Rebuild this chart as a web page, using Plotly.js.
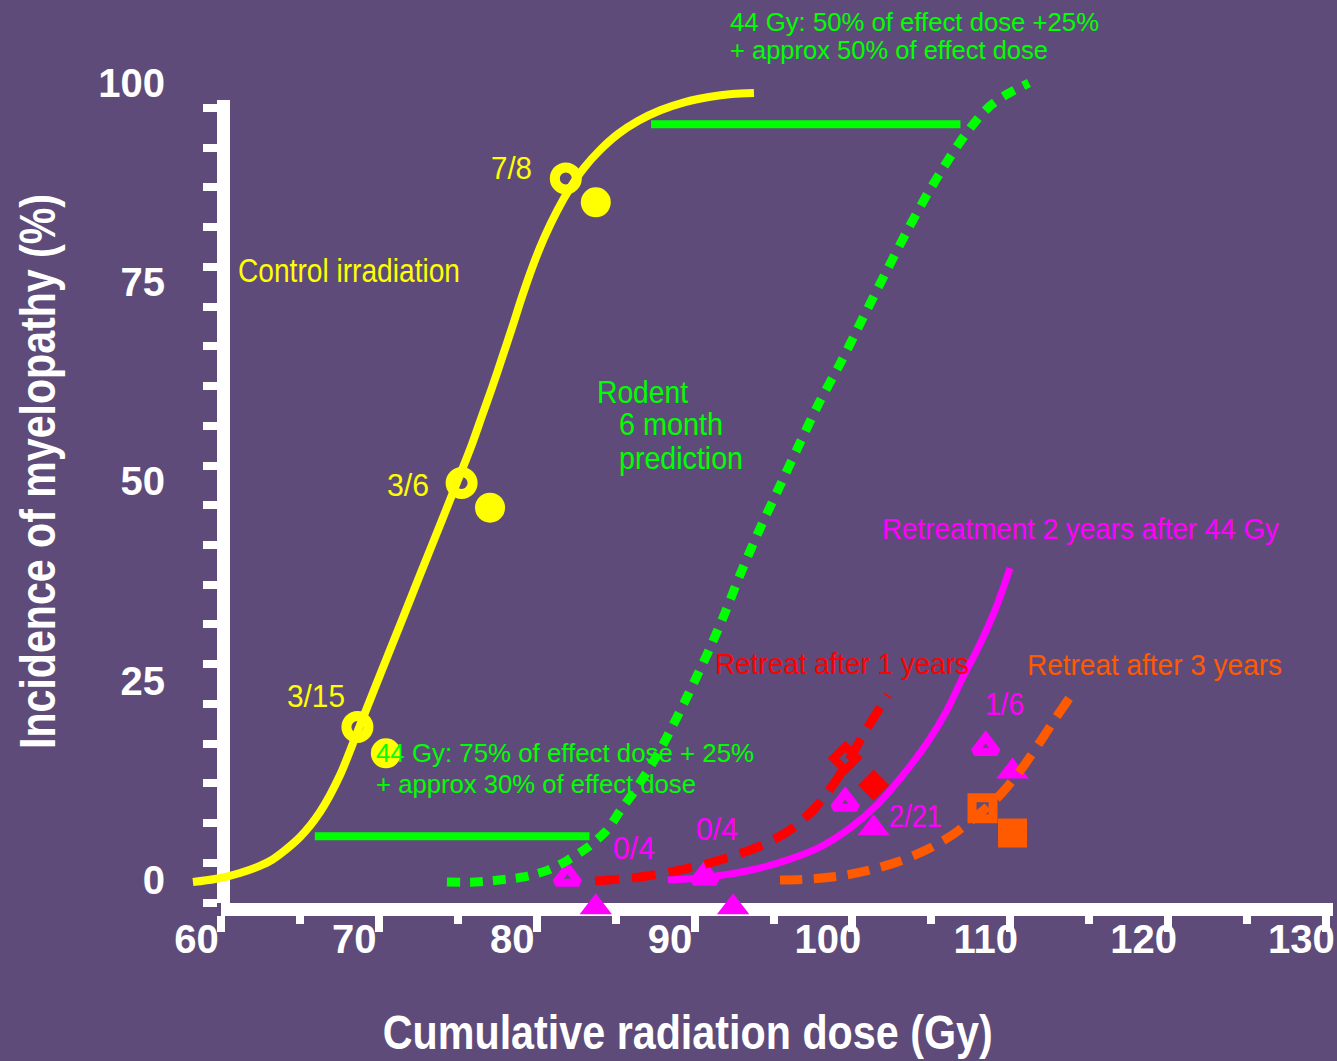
<!DOCTYPE html>
<html>
<head>
<meta charset="utf-8">
<script src="https://cdn.plot.ly/plotly-3.0.1.min.js"></script>
<style>
html,body{margin:0;padding:0;background:#5e4b7a;}
#chart{width:1337px;height:1061px;}
</style>
</head>
<body>
<div id="chart"></div>
<script>
// ---- Tick labels ----
const xTickVals = [60, 70, 80, 90, 100, 110, 120, 130];
const yTickVals = [0, 25, 50, 75, 100];

// ---- Curves (dose Gy, incidence %) ----
const controlCurveX = [59.78,61.18,62.76,64.66,66.56,67.83,69.10,70.17,71.63,72.90,74.16,75.56,76.19,76.82,77.46,78.09,78.72,79.36,79.99,80.62,81.26,82.02,82.84,83.67,84.55,85.57,86.71,87.97,89.43,90.95,92.47,93.93,95.32];
const controlCurveY = [-0.25,0.13,0.88,2.38,5.39,8.53,13.17,18.44,25.71,31.98,38.25,45.15,48.29,51.42,54.68,58.20,61.71,65.47,69.23,73.12,76.76,80.52,83.91,86.79,89.30,91.56,93.57,95.20,96.57,97.58,98.21,98.58,98.71];

const rodentCurveX = [75.87,77.71,79.17,80.69,82.27,83.54,84.81,86.01,86.83,87.66,88.54,89.37,90.13,90.89,91.65,92.53,93.48,94.43,95.57,96.84,98.11,99.44,100.83,102.22,103.62,104.95,106.34,107.42,108.37,109.32,110.27,111.22,112.74];
const rodentCurveY = [-0.25,-0.25,0.0,0.38,1.25,2.51,4.14,6.27,8.65,10.91,13.55,16.31,19.19,22.20,25.34,29.10,33.49,38.25,43.52,48.92,54.31,59.83,64.97,70.49,76.01,81.15,86.17,89.68,92.56,95.07,97.08,98.41,99.97];

const retreat1X = [85.25,88.10,90.63,93.17,95.70,97.60,99.18,100.45,101.40,102.54,103.81];
const retreat1Y = [-0.13,0.38,1.25,2.51,4.26,6.27,9.03,12.29,15.30,19.19,23.20];

const retreat2X = [89.87,91.90,93.80,95.70,97.60,99.50,101.40,103.11,104.76,106.28,107.55,108.56,109.45,110.59,111.54];
const retreat2Y = [0.0,0.25,0.75,1.51,2.63,4.14,6.52,9.41,13.17,17.18,21.32,25.46,28.85,33.86,39.13];

const retreat3X = [96.97,98.87,100.77,102.67,104.57,106.47,108.05,109.64,110.90,112.17,113.44,114.39,115.34];
const retreat3Y = [0.0,0.13,0.50,1.25,2.38,4.01,5.89,8.40,10.66,13.67,17.31,20.19,22.95];

// ---- 5% / 95% reference lines ----
const lowLineX = [67.5, 84.9];
const lowLineY = [5.5, 5.5];
const highLineX = [88.8, 108.4];
const highLineY = [94.8, 94.8];

// ---- Observed points ----
const controlOpenX = [70.2, 76.8, 83.4];
const controlOpenY = [19.2, 49.8, 88.0];
const controlFilledX = [72.0, 78.6, 85.3];
const controlFilledY = [15.9, 46.7, 85.0];

const retreat2OpenX = [83.5, 92.2, 101.1, 110.0];
const retreat2OpenY = [0.3, 0.4, 9.7, 16.7];
const retreat2FilledX = [85.3, 94.0, 102.9, 111.7];
const retreat2FilledY = [-3.4, -3.4, 6.5, 13.6];

const retreat1OpenX = [101.1];
const retreat1OpenY = [15.3];
const retreat1FilledX = [102.9];
const retreat1FilledY = [11.9];

const retreat3OpenX = [109.8];
const retreat3OpenY = [9.0];
const retreat3FilledX = [111.7];
const retreat3FilledY = [5.9];

// ---- Text labels ----
const labelTexts = ["44 Gy: 50% of effect dose +25%", "+ approx 50% of effect dose", "Control irradiation", "Rodent", "6 month", "prediction", "Retreatment 2 years after 44 Gy", "Retreat after 1 years", "Retreat after 3 years", "44 Gy: 75% of effect dose + 25%", "+ approx 30% of effect dose", "7/8", "3/6", "3/15", "0/4", "0/4", "2/21", "1/6"];
const labelX = [93.67, 93.67, 62.51, 85.25, 86.64, 86.64, 103.30, 92.72, 112.49, 71.25, 71.25, 78.53, 71.95, 65.61, 86.26, 91.52, 103.75, 109.83];
const labelY = [107.6, 104.1, 76.4, 61.2, 57.2, 52.9, 44.0, 27.2, 27.0, 15.9, 12.0, 89.2, 49.5, 23.0, 4.0, 6.3, 8.0, 22.0];

const xTitle = 'Cumulative radiation dose (Gy)';
const yTitle = 'Incidence of myelopathy (%)';

const PURPLE = '#5e4b7a';
const YELLOW = '#ffff00';
const GREEN = '#00ff00';
const RED = '#ff0000';
const MAGENTA = '#ff00ff';
const ORANGE = '#ff5a00';
const labelColors = [GREEN, GREEN, YELLOW, GREEN, GREEN, GREEN, MAGENTA, RED, ORANGE, GREEN, GREEN, YELLOW, YELLOW, YELLOW, MAGENTA, MAGENTA, MAGENTA, MAGENTA];
const labelSizes = [26, 26, 33, 32, 32, 32, 29, 30, 30, 26, 26, 31, 31, 31, 31, 31, 31, 31];
const labelWidths = [369, 318, 222, 91, 104, 124, 397, 254, 255, 378, 320, 41, 42, 58, 42, 42, 53, 39];

const FONT = 'Liberation Sans, Arial, sans-serif';

function markers(x, y, symbol, color, size, lw) {
  return {type: 'scatter', mode: 'markers', x: x, y: y, xaxis: 'x2', yaxis: 'y2', cliponaxis: false,
    hoverinfo: 'skip', showlegend: false,
    marker: {symbol: symbol, color: color, size: size, line: {color: color, width: lw}}};
}
function curve(x, y, color, width, dash) {
  return {type: 'scatter', mode: 'lines', x: x, y: y, xaxis: 'x2', yaxis: 'y2', cliponaxis: false,
    hoverinfo: 'skip', showlegend: false,
    line: {color: color, width: width, dash: dash, shape: 'spline', smoothing: 0.8}};
}

const traces = [
  // empty trace so the axis-frame subplot is built
  {type: 'scatter', mode: 'markers', x: [], y: [], xaxis: 'x', yaxis: 'y', showlegend: false, hoverinfo: 'skip'},
  markers(controlFilledX, controlFilledY, 'circle', YELLOW, 30, 0),
  markers(controlOpenX, controlOpenY, 'circle-open', YELLOW, 22, 10),
  markers(retreat2FilledX, retreat2FilledY, 'triangle-up', MAGENTA, 28, 0),
  markers(retreat2OpenX, retreat2OpenY, 'triangle-up-open', MAGENTA, 20, 8),
  markers(retreat1FilledX, retreat1FilledY, 'diamond', RED, 24, 0),
  markers(retreat1OpenX, retreat1OpenY, 'diamond-open', RED, 18, 8),
  markers(retreat3FilledX, retreat3FilledY, 'square', ORANGE, 29, 0),
  markers(retreat3OpenX, retreat3OpenY, 'square-open', ORANGE, 21, 9),
  curve(controlCurveX, controlCurveY, YELLOW, 8, 'solid'),
  curve(rodentCurveX, rodentCurveY, GREEN, 9, '13px,10px'),
  curve(lowLineX, lowLineY, GREEN, 8, 'solid'),
  curve(highLineX, highLineY, GREEN, 8, 'solid'),
  curve(retreat1X, retreat1Y, RED, 9, '24px,13px'),
  curve(retreat2X, retreat2Y, MAGENTA, 7, 'solid'),
  curve(retreat3X, retreat3Y, ORANGE, 9, '22px,12px')
];

const annotations = labelTexts.map((t, i) => ({
  text: t, x: labelX[i], y: labelY[i], xref: 'x2', yref: 'y2',
  xanchor: 'left', yanchor: 'middle', align: 'left', showarrow: false,
  font: {family: FONT, size: labelSizes[i], color: labelColors[i]}
}));
// axis titles
annotations.push({text: xTitle, xref: 'paper', yref: 'paper', x: 0.4444, y: -0.1251,
  xanchor: 'center', yanchor: 'middle', align: 'center', showarrow: false, borderpad: 0,
  font: {family: FONT, size: 48, color: 'white', weight: 'bold'}});
annotations.push({text: yTitle, xref: 'paper', yref: 'paper', x: -0.1154, y: 0.4874, textangle: -90,
  xanchor: 'center', yanchor: 'middle', align: 'center', showarrow: false,
  font: {family: FONT, size: 50, color: 'white', weight: 'bold'}});
const annWidths = labelWidths.concat([610, 555]);

const layout = {
  width: 1337, height: 1061,
  paper_bgcolor: PURPLE, plot_bgcolor: 'rgba(0,0,0,0)',
  margin: {l: 172, r: 4, t: 3, b: 143, pad: 0, autoexpand: false},
  showlegend: false,
  font: {family: FONT, color: 'white'},
  // axis frame (white lines + ticks)
  xaxis: {domain: [0.04194, 1], range: [59.98, 130.44], anchor: 'y', showline: true, linecolor: 'white', linewidth: 13,
    ticks: 'outside', tickcolor: 'white', tickwidth: 8, ticklen: 16, tick0: 60, dtick: 10,
    showticklabels: false, showgrid: false, zeroline: false,
    minor: {ticks: 'outside', tickcolor: 'white', tickwidth: 8, ticklen: 8, tick0: 60, dtick: 5, showgrid: false}},
  yaxis: {domain: [0.01639, 0.894], range: [-0.05, 101.0], anchor: 'free', position: 0.0435, showline: true, linecolor: 'white', linewidth: 13,
    ticks: 'outside', tickcolor: 'white', tickwidth: 8, ticklen: 14, tick0: 0, dtick: 5,
    showticklabels: false, showgrid: false, zeroline: false},
  // data axes (tick labels)
  xaxis2: {domain: [0, 1], range: [58.454, 132], anchor: 'y2', showline: false, ticks: '', showgrid: false, zeroline: false,
    tickmode: 'array', tickvals: xTickVals, ticktext: xTickVals.map(String), ticklabelstandoff: -6,
    tickfont: {family: FONT, size: 40, color: 'white', weight: 'bold'}},
  yaxis2: {domain: [0, 1], range: [-4.76, 110], anchor: 'x2', showline: false, ticks: '', showgrid: false, zeroline: false,
    tickmode: 'array', tickvals: yTickVals, ticktext: yTickVals.map(String), ticklabelstandoff: 6,
    tickfont: {family: FONT, size: 40, color: 'white', weight: 'bold'}},
  annotations: annotations
};

Plotly.newPlot('chart', traces, layout, {staticPlot: true, displayModeBar: false}).then(gd => {
  gd.querySelectorAll('.annotation').forEach(g => {
    const i = +g.getAttribute('data-index');
    const t = g.querySelector('text.annotation-text');
    if (t && annWidths[i]) {
      t.setAttribute('textLength', annWidths[i]);
      t.setAttribute('lengthAdjust', 'spacingAndGlyphs');
    }
  });
});
</script>
</body>
</html>
